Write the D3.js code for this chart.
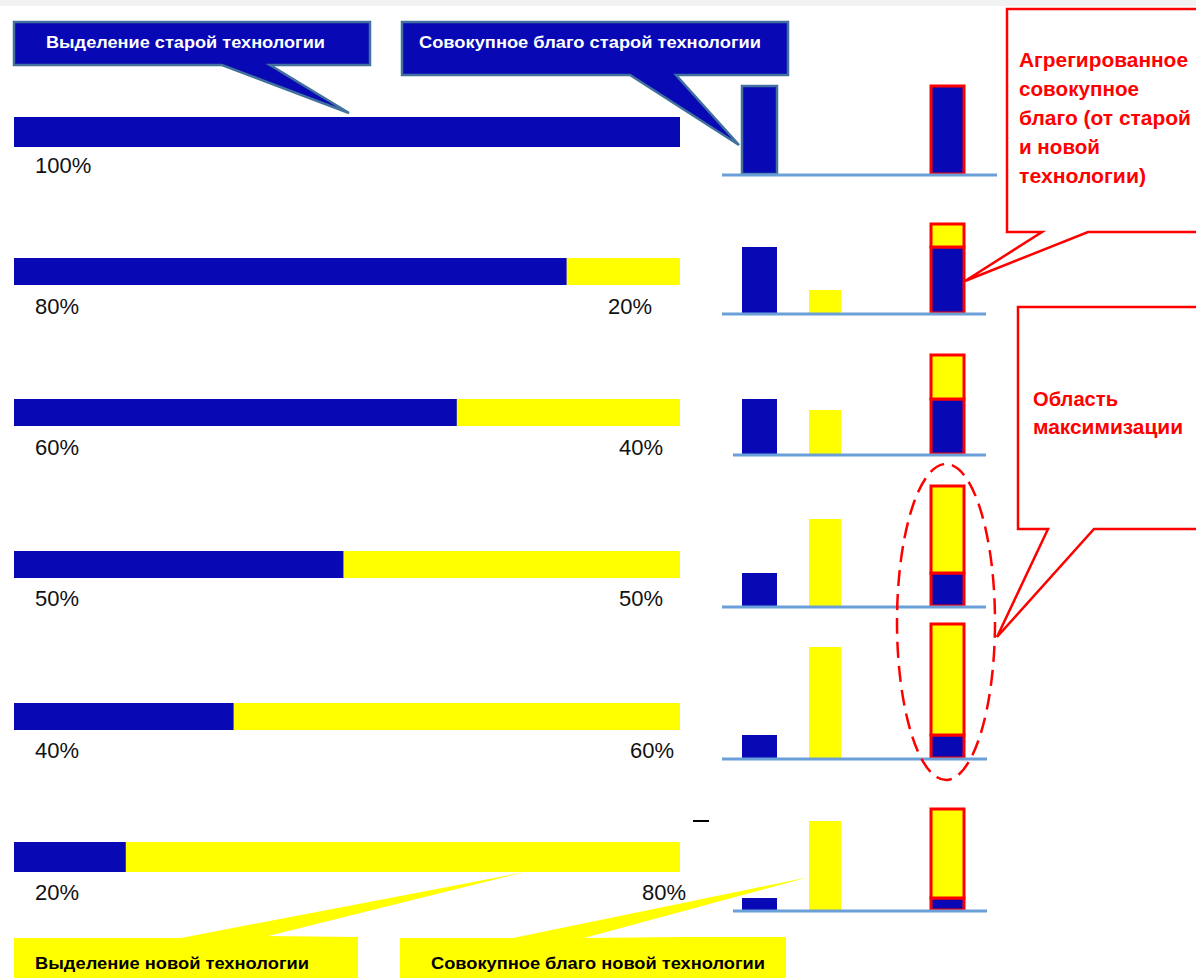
<!DOCTYPE html>
<html><head><meta charset="utf-8">
<script src="https://cdn.jsdelivr.net/npm/d3@7"></script>
<style>html,body{margin:0;padding:0;background:#fff;overflow:hidden}svg{display:block}</style>
</head><body>
<svg id="c" width="1196" height="978"></svg>
<script>
// ---- data ----
const scenarios = ["s100", "s80", "s60", "s50", "s40", "s20"];
const oldShare = [1.0, 0.83, 0.665, 0.495, 0.33, 0.168];          // share of the old technology (bar length)
const oldShareLabels = ["100%", "80%", "60%", "50%", "40%", "20%"];
const newShareLabels = ["", "20%", "40%", "50%", "60%", "80%"];
const oldWelfare = [88, 66, 55, 33, 23, 12];                      // total welfare of the old technology
const newWelfare = [0, 23, 44, 87, 111, 89];                      // total welfare of the new technology
const calloutOldAlloc = "Выделение старой технологии";
const calloutOldWelfare = "Совокупное благо старой технологии";
const calloutNewAlloc = "Выделение новой технологии";
const calloutNewWelfare = "Совокупное благо новой технологии";
const calloutAggregate = ["Агрегированное", "совокупное", "благо (от старой", "и новой", "технологии)"];
const calloutMax = ["Область", "максимизации"];

// ---- layout ----
const BLUE = "#0808b4", YELLOW = "#ffff00", RED = "#ff0000", STEEL = "#41719c", AXIS = "#6a9fd8";
const rowBarTop = [117, 258, 399, 551, 703, 842];
const rowBarH = [30, 27, 27, 27, 27, 30];
const labelBase = [173, 314, 455, 606, 758, 900];
const rightLabelEnd = [0, 652, 663, 663, 674, 686];
const axisBase = [174, 313, 454, 606, 758, 910];
const axisStart = [722, 722, 733, 722, 722, 733];
const axisEnd = [997, 986, 986, 986, 987, 987];
const colX = {old: 742, nw: 809, agg: 931};
const colW = {old: 35, nw: 32, agg: 33};

const svg = d3.select("#c");
const x = d3.scaleLinear().domain([0, 1]).range([14, 680]);
const h = d3.scaleLinear().domain([0, 100]).range([0, 100]);

const rows = scenarios.map((s, i) => ({
  id: s, i, old: oldShare[i], oldLab: oldShareLabels[i], newLab: newShareLabels[i],
  ow: oldWelfare[i], nw: newWelfare[i]
}));

// top grey band
svg.append("rect").attr("x", 0).attr("y", 0).attr("width", 1196).attr("height", 6).attr("fill", "#f2f2f2");

// ---- allocation bars ----
const g = svg.append("g");
g.selectAll("rect.old").data(rows).join("rect").attr("class", "old")
  .attr("x", x(0)).attr("y", d => rowBarTop[d.i])
  .attr("width", d => x(d.old) - x(0)).attr("height", d => rowBarH[d.i]).attr("fill", BLUE);
g.selectAll("rect.new").data(rows.filter(d => d.old < 1)).join("rect").attr("class", "new")
  .attr("x", d => x(d.old)).attr("y", d => rowBarTop[d.i])
  .attr("width", d => x(1) - x(d.old)).attr("height", d => rowBarH[d.i]).attr("fill", YELLOW);

const lblFont = "'Liberation Sans', Arial, sans-serif";
g.selectAll("text.ol").data(rows).join("text").attr("class", "ol")
  .attr("x", 35).attr("y", d => labelBase[d.i]).attr("font-family", lblFont).attr("font-size", 22)
  .attr("fill", "#111").text(d => d.oldLab);
g.selectAll("text.nl").data(rows.filter(d => d.newLab)).join("text").attr("class", "nl")
  .attr("x", d => rightLabelEnd[d.i]).attr("y", d => labelBase[d.i]).attr("text-anchor", "end")
  .attr("font-family", lblFont).attr("font-size", 22).attr("fill", "#111").text(d => d.newLab);

// ---- welfare bars ----
const r = svg.append("g");
r.selectAll("rect.ow").data(rows).join("rect").attr("class", "ow")
  .attr("x", colX.old).attr("width", colW.old)
  .attr("y", d => axisBase[d.i] - h(d.ow)).attr("height", d => h(d.ow))
  .attr("fill", BLUE)
  .attr("stroke", d => d.i === 0 ? STEEL : "none").attr("stroke-width", 2.5);
r.selectAll("rect.nw").data(rows.filter(d => d.nw > 0)).join("rect").attr("class", "nw")
  .attr("x", colX.nw).attr("width", colW.nw)
  .attr("y", d => axisBase[d.i] - h(d.nw)).attr("height", d => h(d.nw)).attr("fill", YELLOW);
// aggregate stacked
const stack = d3.stack().keys(["ow", "nw"])(rows);
stack.forEach((layer, k) => {
  r.selectAll("rect.agg" + k).data(layer.filter(d => d[1] > d[0])).join("rect").attr("class", "agg" + k)
    .attr("x", colX.agg).attr("width", colW.agg)
    .attr("y", d => axisBase[d.data.i] - h(d[1])).attr("height", d => h(d[1]) - h(d[0]))
    .attr("fill", k === 0 ? BLUE : YELLOW).attr("stroke", RED).attr("stroke-width", 3);
});
// baselines
r.selectAll("line.ax").data(rows).join("line").attr("class", "ax")
  .attr("x1", d => axisStart[d.i]).attr("x2", d => axisEnd[d.i])
  .attr("y1", d => axisBase[d.i] + 1).attr("y2", d => axisBase[d.i] + 1)
  .attr("stroke", AXIS).attr("stroke-width", 3);

// small dash
svg.append("line").attr("x1", 693).attr("x2", 709).attr("y1", 821).attr("y2", 821)
  .attr("stroke", "#000").attr("stroke-width", 2);

// ---- callouts ----
const line = d3.line();
function callout(pts, fill, stroke, sw) {
  svg.append("path").attr("d", line(pts) + "Z").attr("fill", fill)
    .attr("stroke", stroke).attr("stroke-width", sw).attr("stroke-linejoin", "miter");
}
function label(txt, xx, yy, len, size, color, weight) {
  svg.append("text").attr("x", xx).attr("y", yy).attr("font-family", lblFont)
    .attr("font-size", size).attr("font-weight", weight || "bold").attr("fill", color)
    .attr("textLength", len).attr("lengthAdjust", "spacingAndGlyphs").text(txt);
}
// blue top callouts
callout([[14,22],[370,22],[370,65],[270,65],[349,113],[222,65],[14,65]], BLUE, STEEL, 2.5);
label(calloutOldAlloc, 46, 48, 279, 17, "#fff");
callout([[402,22],[788,22],[788,75],[676,75],[739,145],[630,75],[402,75]], BLUE, STEEL, 2.5);
label(calloutOldWelfare, 419, 48, 342, 17, "#fff");

// yellow bottom callouts
callout([[14,938],[181,938],[525,872],[268,936],[358,937],[358,985],[14,985]], YELLOW, "none", 0);
label(calloutNewAlloc, 35, 969, 274, 17, "#000");
callout([[400,938],[513,938],[809,877],[584,938],[686,937],[786,937],[786,985],[400,985]], YELLOW, "none", 0);
label(calloutNewWelfare, 431, 969, 334, 17, "#000");

// red callouts
callout([[1007,9],[1215,9],[1215,232],[1088,232],[965,281],[1042,232],[1007,232]], "#fff", RED, 2.5);
const aggLens = [169, 120, 172, 81, 127];
calloutAggregate.forEach((t, k) => label(t, 1019, 67 + k * 29, aggLens[k], 20, RED));
callout([[1018,307],[1215,307],[1215,529],[1094,529],[997,637],[1048,529],[1018,529]], "#fff", RED, 2.5);
const maxLens = [85, 150];
calloutMax.forEach((t, k) => label(t, 1033, 406 + k * 28, maxLens[k], 20, RED));

// dashed ellipse around maximisation area
svg.append("ellipse").attr("cx", 946).attr("cy", 622).attr("rx", 49).attr("ry", 158)
  .attr("fill", "none").attr("stroke", RED).attr("stroke-width", 2.5).attr("stroke-dasharray", "16 8");
</script>
</body></html>
